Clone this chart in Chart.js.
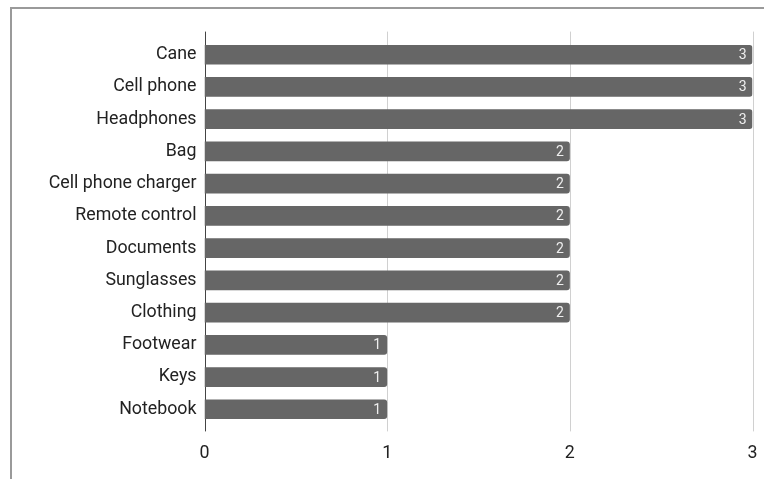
<!DOCTYPE html>
<html>
<head>
<meta charset="utf-8">
<script src="https://cdn.jsdelivr.net/npm/chart.js@4/dist/chart.umd.min.js"></script>
<style>
  html, body { margin: 0; padding: 0; background: #fff; }
  #wrap { position: relative; width: 764px; height: 479px; overflow: hidden; }
  #frame { position: absolute; left: 10px; top: 7px; width: 800px; height: 500px;
           border-top: 2px solid #9a9a9a; border-left: 2px solid #9a9a9a; box-sizing: border-box; }
  canvas { position: absolute; left: 0; top: 0; }
</style>
</head>
<body>
<div id="wrap">
  <div id="frame"></div>
  <canvas id="chart" width="764" height="479"></canvas>
</div>
<script>
const categories = [
  'Cane', 'Cell phone', 'Headphones', 'Bag', 'Cell phone charger',
  'Remote control', 'Documents', 'Sunglasses', 'Clothing',
  'Footwear', 'Keys', 'Notebook'
];
const counts = [3, 3, 3, 2, 2, 2, 2, 2, 2, 1, 1, 1];
const xTicks = [0, 1, 2, 3];

const FONT = 'Roboto, "Liberation Sans", sans-serif';

// Vertical grid lines that overhang the plot area a little at both ends
const extendedGrid = {
  id: 'extendedGrid',
  beforeDatasetsDraw(chart) {
    const { ctx, chartArea, scales } = chart;
    const xs = scales.x;
    ctx.save();
    xTicks.forEach(v => {
      const px = Math.round(xs.getPixelForValue(v)) + 0.5;
      ctx.beginPath();
      ctx.strokeStyle = v === 0 ? '#444' : '#d0d0d0';
      ctx.lineWidth = 1;
      ctx.moveTo(px, chartArea.top - 7);
      ctx.lineTo(px, chartArea.bottom + 6);
      ctx.stroke();
    });
    ctx.restore();
  }
};

// Value text at the end of each bar
const barValues = {
  id: 'barValues',
  afterDatasetsDraw(chart) {
    const { ctx } = chart;
    const meta = chart.getDatasetMeta(0);
    ctx.save();
    ctx.font = '14px ' + FONT;
    ctx.fillStyle = '#eeeeee';
    ctx.textAlign = 'right';
    ctx.textBaseline = 'middle';
    meta.data.forEach((bar, i) => {
      ctx.fillText(String(counts[i]), bar.x - 6, bar.y + 1);
    });
    ctx.restore();
  }
};

new Chart(document.getElementById('chart'), {
  type: 'bar',
  data: {
    labels: categories,
    datasets: [{
      data: counts,
      backgroundColor: '#666666',
      borderRadius: 3,
      borderSkipped: 'start',
      categoryPercentage: 1,
      barPercentage: 0.61
    }]
  },
  options: {
    indexAxis: 'y',
    responsive: false,
    animation: false,
    events: [],
    layout: { padding: { left: 0, right: 11.5, top: 38.6, bottom: 0 } },
    plugins: { legend: { display: false }, tooltip: { enabled: false } },
    scales: {
      x: {
        min: 0, max: 3,
        afterFit(s) { s.height = 479 - 425.4; s.paddingLeft = 0; s.paddingRight = 0; },
        grid: { display: false, drawTicks: false },
        border: { display: false },
        afterBuildTicks(s) { s.ticks = xTicks.map(v => ({ value: v })); },
        ticks: { color: '#222', font: { family: FONT, size: 17.8 }, padding: 17 }
      },
      y: {
        afterFit(s) { s.width = 204.5; s.paddingTop = 0; s.paddingBottom = 0; },
        grid: { display: false, drawTicks: false },
        border: { display: false },
        ticks: { color: '#222', font: { family: FONT, size: 17.8 }, padding: 8 }
      }
    }
  },
  plugins: [extendedGrid, barValues]
});
</script>
</body>
</html>
